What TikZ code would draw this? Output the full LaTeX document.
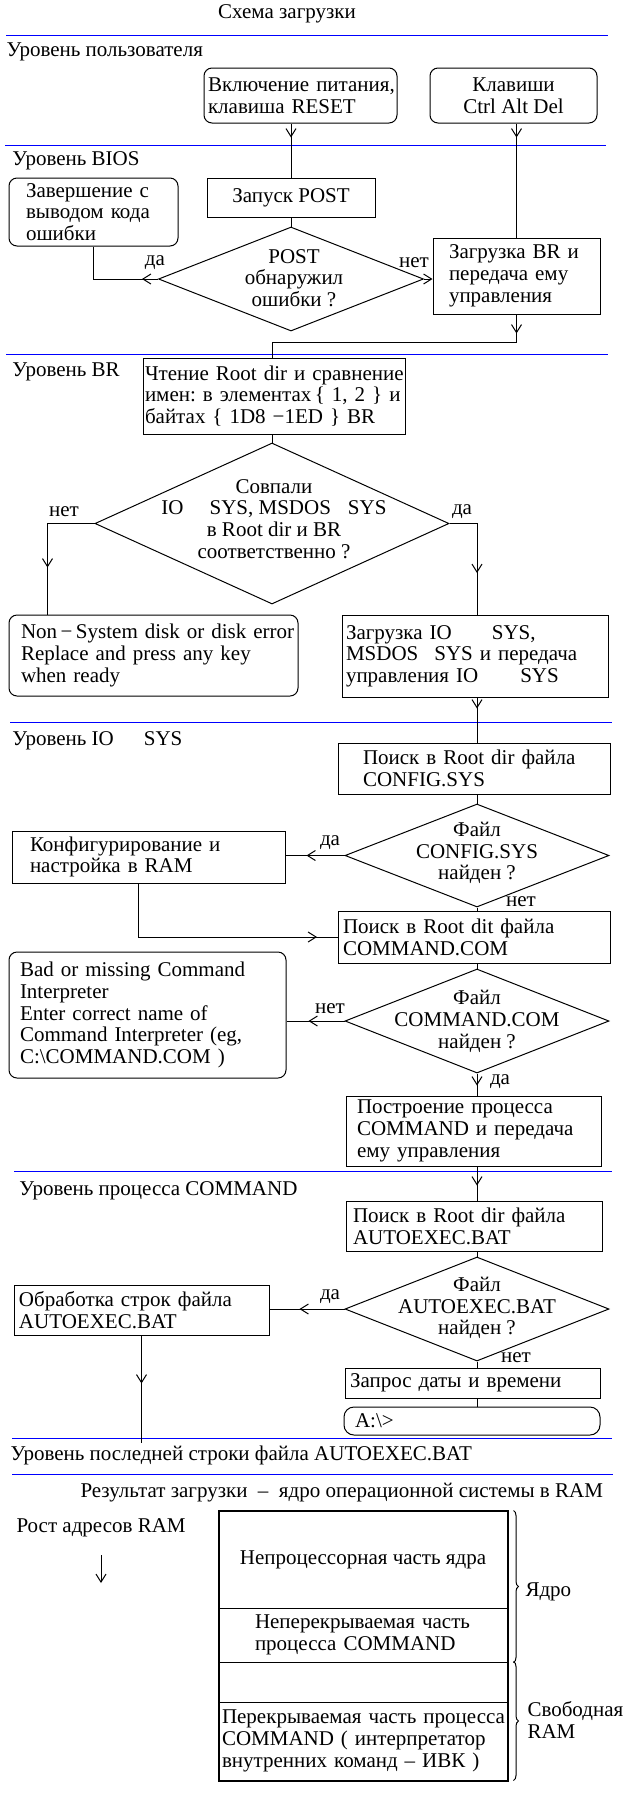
\documentclass[tikz,border=0pt]{standalone}
\usepackage{fontspec}
\setmainfont{Liberation Serif}
\usetikzlibrary{shapes.geometric,arrows.meta,decorations.markings,decorations.pathreplacing,calc}
\begin{document}
\begin{tikzpicture}[x=1pt,y=-1pt,line width=1pt,
  font=\fontsize{21}{21.7}\selectfont\frenchspacing,
  bx/.style={draw, rectangle, inner sep=0pt, align=left},
  rbx/.style={bx, rounded corners=8pt},
  dia/.style={draw, diamond, inner sep=0pt},
  txt/.style={inner sep=0pt, align=center},
  lvl/.style={inner sep=0pt, anchor=west},
  sep/.style={draw=blue, line width=1pt},
  tip/.style={-{Straight Barb[length=8pt,width=10pt]}},
  marr/.style={postaction={decorate,decoration={markings,mark=at position #1 with {\arrow{Straight Barb[length=8pt,width=10pt]}}}}},
  yn/.style={inner sep=0pt}
]
\useasboundingbox (0,0) rectangle (640,1800);

% title and separators
\node[txt] (title) at (287,14) {Схема загрузки};
\draw[sep] (6,35) -- (608,35);
\draw[sep] (5,145) -- (606,145);
\draw[sep] (6,354) -- (608,354);
\draw[sep] (10,722) -- (612,722);
\draw[sep] (14,1171) -- (612,1171);
\draw[sep] (12,1438) -- (612,1438);
\draw[sep] (12,1474) -- (613,1474);

% level labels
\node[lvl] (l1) at (6,52) {Уровень пользователя};
\node[lvl] (l2) at (12,161) {Уровень BIOS};
\node[lvl] (l3) at (12,372) {Уровень BR};
\node[lvl] (l4) at (12,741) {Уровень IO\hspace{30pt}SYS};
\node[lvl] (l5) at (19,1191) {Уровень процесса COMMAND};
\node[lvl] (l6) at (10,1455) {Уровень последней строки файла AUTOEXEC.BAT};
\node[lvl] (res) at (80,1493) {Результат загрузки \ – \ ядро операционной системы в RAM};
\node[lvl] (grow) at (16,1528) {Рост адресов RAM};

% user level
\node[rbx, minimum width=193pt, minimum height=55pt, text width=185pt] (b1) at (300.5,95.5) {\mbox{Включение питания,}\\клавиша RESET};
\node[rbx, align=center, minimum width=167pt, minimum height=55pt] (b2) at (513.5,95.5) {Клавиши\\Ctrl Alt Del};

% BIOS level
\node[rbx, minimum width=169pt, minimum height=68pt, text width=135pt] (fin) at (93.5,212) {\mbox{Завершение с}\\\mbox{выводом кода}\\ошибки};
\node[bx, align=center, minimum width=168pt, minimum height=39pt] (post) at (291,197.5) {Запуск POST};
\node[dia, minimum width=265pt, minimum height=104pt] (d1) at (291,279) {};
\node[txt] (d1t) at (294,278) {POST\\обнаружил\\ошибки ?};
\node[bx, minimum width=167pt, minimum height=76pt, text width=135pt] (brl) at (516.5,276) {\mbox{Загрузка BR и}\\\mbox{передача ему}\\управления};

% BR level
\node[bx, minimum width=262pt, minimum height=76pt, text width=258pt] (rd) at (274,396) {\mbox{Чтение Root dir и сравнение}\\\mbox{имен: в элементах\,\{ 1, 2 \} и}\\байтах \{ 1D8 −1ED \} BR};
\node[dia, minimum width=354pt, minimum height=161pt] (d2) at (272,523.5) {};
\node[txt] (d2t) at (274,519) {Совпали\\IO\hspace{26pt}SYS, MSDOS\hspace{17pt}SYS\\в Root dir и BR\\соответственно ?};
\node[rbx, minimum width=289pt, minimum height=81pt, text width=265pt] (err) at (153.5,655.5) {\mbox{Non\,−\,System disk or disk error}\\Replace and press any key\\when ready};
\node[bx, minimum width=266pt, minimum height=82pt, text width=258pt] (ldio) at (475,656) {Загрузка IO\hspace{40pt}SYS,\\\mbox{MSDOS\hspace{16pt}SYS и передача}\\\mbox{управления IO\hspace{42pt}SYS}};

% IO.SYS level
\node[bx, minimum width=272pt, minimum height=51pt, text width=222pt] (cfg) at (474,768.5) {\mbox{Поиск в Root dir файла}\\CONFIG.SYS};
\node[dia, minimum width=264pt, minimum height=103pt] (d3) at (477,855.5) {};
\node[txt] (d3t) at (477,853) {Файл\\CONFIG.SYS\\найден ?};
\node[bx, minimum width=273pt, minimum height=52pt, text width=237pt] (conf) at (148.5,857) {\mbox{Конфигурирование и}\\настройка в RAM};
\node[bx, minimum width=272pt, minimum height=52pt, text width=262pt] (cmd) at (474,937) {\mbox{Поиск в Root dit файла}\\COMMAND.COM};
\node[dia, minimum width=264pt, minimum height=104pt] (d4) at (477,1021) {};
\node[txt] (d4t) at (477,1021.5) {Файл\\COMMAND.COM\\найден ?};
\node[rbx, minimum width=277pt, minimum height=126pt, text width=255pt] (bad) at (147.5,1015) {\mbox{Bad or missing Command}\\Interpreter\\\mbox{Enter correct name of}\\\mbox{Command Interpreter (eg,}\\C:\textbackslash COMMAND.COM )};
\node[bx, minimum width=255pt, minimum height=70pt, text width=233pt] (bld) at (473.5,1131) {\mbox{Построение процесса}\\\mbox{COMMAND и передача}\\ему управления};

% COMMAND level
\node[bx, minimum width=256pt, minimum height=50pt, text width=242pt] (ae) at (474,1226) {\mbox{Поиск в Root dir файла}\\AUTOEXEC.BAT};
\node[dia, minimum width=264pt, minimum height=104pt] (d5) at (477,1309) {};
\node[txt] (d5t) at (477,1308) {Файл\\AUTOEXEC.BAT\\найден ?};
\node[bx, minimum width=255pt, minimum height=50pt, text width=245pt] (proc) at (141.5,1310) {\mbox{Обработка строк файла}\\AUTOEXEC.BAT};
\node[bx, minimum width=255pt, minimum height=30pt, text width=245pt] (date) at (472.5,1383) {\mbox{Запрос даты и времени}};
\node[rbx, rounded corners=10pt, minimum width=256pt, minimum height=28pt, text width=234pt] (prompt) at (472,1421) {A:\textbackslash>};

% yes / no labels
\node[yn] (y1) at (155,263) {да};
\node[yn] (n1) at (414,263) {нет};
\node[yn] (n2) at (64,512) {нет};
\node[yn] (y2) at (462,512) {да};
\node[yn] (y3) at (330,843) {да};
\node[yn] (n3) at (521,902) {нет};
\node[yn] (n4) at (330,1009) {нет};
\node[yn] (y4) at (500,1082) {да};
\node[yn] (y5) at (330,1297) {да};
\node[yn] (n5) at (516,1358) {нет};

% connectors
\draw[marr=14pt] (post.north |- b1.south) -- (post.north);
\draw[marr=14pt] (brl.north |- b2.south) -- (brl.north);
\draw (post.south) -- (d1.north);
\draw[marr=16pt] (d1.west) -| (fin.south);
\draw[tip] (d1.east) -- (d1.east -| brl.west);
\draw[marr=19pt] (brl.south) |- ($(d2.north |- rd.north)+(0,-15)$) -- (d2.north |- rd.north);
\draw (d2.north |- rd.south) -- (d2.north);
\draw[marr=91pt] (d2.west) -| ($(err.north west)+(39,0)$);
\draw[marr=77pt] (d2.east) -| (ldio.north -| d3.north);
\draw[marr=11pt] (ldio.south -| d3.north) -- (cfg.north -| d3.north);
\draw (cfg.south -| d3.north) -- (d3.north);
\draw[marr=38pt] (d3.west) -- (d3.west -| conf.east);
\draw[marr=232pt] ($(conf.south west)+(127,0)$) |- (cmd.west);
\draw (d3.south) -- (d3.south |- cmd.north);
\draw (cmd.south -| d4.north) -- (d4.north);
\draw[marr=36pt] (d4.west) -- (d4.west -| bad.east);
\draw[marr=12pt] (d4.south) -- (d4.south |- bld.north);
\draw[marr=19pt] (bld.south -| d4.south) -- (ae.north -| d4.south);
\draw (ae.south -| d5.north) -- (d5.north);
\draw[marr=45pt] (d5.west) -- (d5.west -| proc.east);
\coordinate (pend) at (142,1443);
\draw[marr=48pt] (proc.south) -- (proc.south |- pend);
\draw (d5.south) -- (d5.south |- date.north);
\draw (date.south -| d5.south) -- (prompt.north -| d5.south);

% memory map
\node[bx, align=center, minimum width=288pt, minimum height=97pt] (m1) at (363,1559.5) {Непроцессорная часть ядра};
\node[bx, minimum width=288pt, minimum height=54pt, text width=216pt] (m2) at (363,1635) {\mbox{Неперекрываемая часть}\\процесса COMMAND};
\node[bx, minimum width=288pt, minimum height=40pt] (m3) at (363,1682) {};
\node[bx, minimum width=288pt, minimum height=78pt, text width=282pt] (m4) at (363,1741) {\mbox{Перекрываемая часть процесса}\\\mbox{COMMAND ( интерпретатор}\\\mbox{внутренних команд – ИВК )}};
\draw[line width=2pt] (m1.north west) rectangle (m4.south east);
\draw[decorate, decoration={brace, amplitude=5pt}] ($(m1.north east)+(6,0)$) -- ($(m2.south east)+(6,0)$);
\draw[decorate, decoration={brace, amplitude=5pt}] ($(m3.north east)+(6,0)$) -- ($(m4.south east)+(6,0)$);
\node[lvl] (core) at (525,1592) {Ядро};
\node[lvl, align=left] (free) at (527,1720) {Свободная\\RAM};
\coordinate (ga) at (101,1555);
\coordinate (gb) at (101,1583);
\draw[tip] (ga) -- (gb);
\end{tikzpicture}
\end{document}
